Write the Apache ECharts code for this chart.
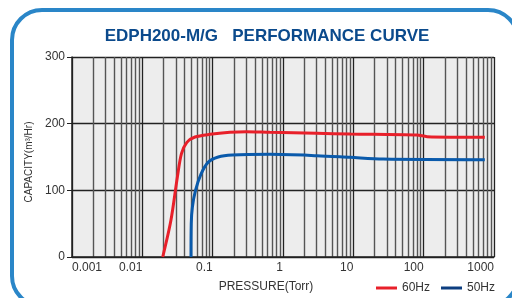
<!DOCTYPE html>
<html>
<head>
<meta charset="utf-8">
<style>
  html, body { margin: 0; padding: 0; background: #fff; }
  #main { width: 512px; height: 298px; }
</style>
</head>
<body>
<div id="main"></div>
<script src="https://cdn.jsdelivr.net/npm/echarts@6/dist/echarts.min.js"></script>
<script>
// pressure (Torr) / capacity (m3/Hr)
var press60 = [0.0195, 0.0255, 0.0315, 0.036, 0.043, 0.056, 0.0916, 0.176, 0.3, 0.65, 3.0, 9, 80, 112, 740];
var cap60   = [0, 55, 120, 155, 172, 180, 184, 187, 188, 187, 185.5, 184.5, 183, 180.5, 179.5];
var press50 = [0.0492, 0.0496, 0.0515, 0.057, 0.068, 0.086, 0.12, 0.19, 0.65, 3.04, 9, 26.5, 740];
var cap50   = [0, 50, 75, 100, 124, 142, 150, 153, 154, 152, 149.5, 147, 146];

var decades = [0.001, 0.01, 0.1, 1, 10, 100, 1000];
var decadeLabels = ['0.001', '0.01', '0.1', '1', '10', '100', '1000'];

// 2..9 inside every decade for the thin grid lines
var minorVals = [];
decades.slice(0, -1).forEach(function (d) {
  for (var k = 2; k <= 9; k++) minorVals.push(+(d * k).toPrecision(3));
});

function pairs(xs, ys) {
  return xs.map(function (x, i) { return [x, ys[i]]; });
}

var font = 'Liberation Sans, Arial, sans-serif';
var chart = echarts.init(document.getElementById('main'));

var option = {
  animation: false,
  title: {
    text: 'EDPH200-M/G   PERFORMANCE CURVE',
    left: 262,
    textAlign: 'center',
    top: 23,
    textStyle: { color: '#0b4a8c', fontSize: 17, fontWeight: 'bold', fontFamily: font }
  },
  graphic: [{
    type: 'rect',
    shape: { x: 12, y: 10, width: 506, height: 296, r: 30 },
    style: { fill: 'none', stroke: '#2a86c8', lineWidth: 4 },
    silent: true
  }],
  grid: {
    left: 72, right: 18, top: 57, bottom: 41,
    show: true, backgroundColor: '#ededed', borderWidth: 0
  },
  legend: {
    right: 12,
    top: 277,
    icon: 'rect',
    itemWidth: 21,
    itemHeight: 3,
    itemGap: 11,
    textStyle: { color: '#333', fontSize: 12, fontFamily: font },
    data: [
      { name: '60Hz', itemStyle: { color: '#e8202a' } },
      { name: '50Hz', itemStyle: { color: '#0d3e80' } }
    ]
  },
  xAxis: [{
    type: 'log',
    logBase: 10,
    min: 0.001,
    max: 1000,
    name: 'PRESSURE(Torr)',
    nameLocation: 'middle',
    nameGap: 24,
    nameTextStyle: { color: '#333', fontSize: 12, fontFamily: font, padding: [0, 34, 0, 0] },
    axisLine: { show: true, lineStyle: { color: '#222', width: 1.5 } },
    axisTick: { show: false, customValues: decades },
    axisLabel: {
      customValues: decades,
      formatter: function (v) {
        var i = decades.indexOf(v);
        return i >= 0 ? decadeLabels[i] : '';
      },
      align: 'right',
      alignMinLabel: 'left',
      margin: 5,
      color: '#333',
      fontSize: 12,
      fontFamily: font
    },
    splitLine: { show: true, lineStyle: { color: '#222', width: 1.3 } }
  }, {
    type: 'log',
    logBase: 10,
    min: 0.001,
    max: 1000,
    position: 'top',
    axisLine: { show: false },
    axisTick: { show: false, customValues: minorVals },
    axisLabel: { show: false },
    splitLine: { show: true, lineStyle: { color: '#555', width: 1.4 } }
  }],
  yAxis: {
    type: 'value',
    min: 0,
    max: 300,
    interval: 100,
    name: 'CAPACITY(m\u00b3/Hr)',
    nameLocation: 'middle',
    nameGap: 34,
    nameTextStyle: { color: '#333', fontSize: 10, fontFamily: font, padding: [0, 10, 0, 0] },
    axisLine: { show: true, lineStyle: { color: '#222', width: 1.5 } },
    axisTick: { show: true, length: 5, lineStyle: { color: '#222' } },
    axisLabel: { margin: 7, color: '#333', fontSize: 12, fontFamily: font },
    splitLine: { show: true, lineStyle: { color: '#222', width: 1.3 } }
  },
  series: [{
    name: '60Hz',
    type: 'line',
    xAxisIndex: 0,
    smooth: 0.3,
    showSymbol: false,
    lineStyle: { color: '#e8202a', width: 3 },
    itemStyle: { color: '#e8202a' },
    data: pairs(press60, cap60)
  }, {
    name: '50Hz',
    type: 'line',
    xAxisIndex: 0,
    smooth: 0.3,
    showSymbol: false,
    lineStyle: { color: '#0a5aab', width: 3 },
    itemStyle: { color: '#0a5aab' },
    data: pairs(press50, cap50)
  }]
};

chart.setOption(option);
</script>
</body>
</html>
